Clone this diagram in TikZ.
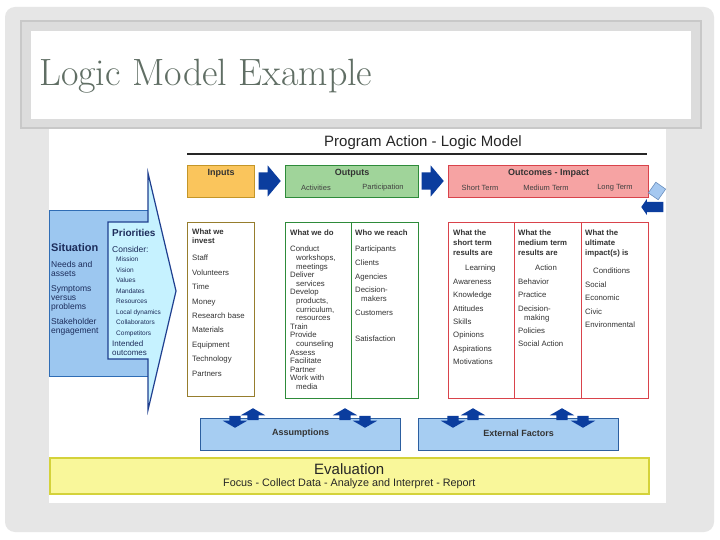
\documentclass[tikz,border=0pt]{standalone}
\usepackage{fontspec}
\setsansfont{Liberation Sans}
\usetikzlibrary{shapes.arrows, positioning}
\definecolor{slidegray}{RGB}{230,230,230}
\definecolor{framegray}{RGB}{220,220,220}
\definecolor{framedark}{RGB}{200,200,200}
\definecolor{titlegreen}{RGB}{96,110,100}
\definecolor{inputfill}{RGB}{250,197,92}
\definecolor{inputdraw}{RGB}{196,150,40}
\definecolor{investdraw}{RGB}{150,125,45}
\definecolor{outfill}{RGB}{160,212,154}
\definecolor{outdraw}{RGB}{46,139,58}
\definecolor{outcfill}{RGB}{246,163,163}
\definecolor{outcdraw}{RGB}{217,67,75}
\definecolor{arrowblue}{RGB}{11,61,158}
\definecolor{sitfill}{RGB}{156,199,240}
\definecolor{sitdraw}{RGB}{47,109,181}
\definecolor{prifill}{RGB}{198,242,255}
\definecolor{pridraw}{RGB}{31,63,143}
\definecolor{navy}{RGB}{28,44,90}
\definecolor{assumfill}{RGB}{166,205,242}
\definecolor{assumdraw}{RGB}{44,95,160}
\definecolor{evalfill}{RGB}{249,247,154}
\definecolor{evaldraw}{RGB}{212,210,58}
\definecolor{tileblue}{RGB}{165,200,240}

\begin{document}
\begin{tikzpicture}[x=1pt, y=-1pt,
  panel/.style={draw, line width=1.2pt, anchor=north west, inner sep=0pt},
  coltext/.style={anchor=north west, align=left, inner sep=0pt, text=black!80, font=\sffamily\fontsize{7.8}{9}\selectfont},
  headtext/.style={inner sep=0pt, text=black!80, font=\sffamily\bfseries\fontsize{9}{10}\selectfont},
  subtext/.style={inner sep=0pt, text=black!75, font=\sffamily\fontsize{7.5}{9}\selectfont},
  flowarrow/.style={single arrow, fill=arrowblue, inner xsep=0pt, inner ysep=8.5pt, minimum height=22pt, single arrow head extend=7pt, single arrow tip angle=100, anchor=tip},
  swaparrow/.style={single arrow, fill=arrowblue, inner xsep=0pt, inner ysep=5.5pt, minimum height=12pt, single arrow head extend=6.5pt, single arrow tip angle=120, anchor=tip},
  factbox/.style={panel, fill=assumfill, draw=assumdraw, minimum width=200pt, minimum height=32pt}
]
  \useasboundingbox (0,0) rectangle (720,540);
  \fill[white] (0,0) rectangle (720,540);
  \fill[slidegray, rounded corners=10pt] (5,7) rectangle (714,532);
  \fill[white] (49,127) rectangle (666,503);
  % title bar
  \node[panel, fill=framegray, draw=framedark, line width=2pt, minimum width=680pt, minimum height=107pt] (titlebar) at (20,20) {};
  \node[panel, fill=white, draw=none, minimum width=660pt, minimum height=88pt] (titlepane) at (30,30) {};
  \node[anchor=base west, inner sep=0pt, text=titlegreen, font=\fontsize{38}{42}\selectfont] (title) at (39,86) {Logic Model Example};

  % header row
  \node[inner sep=0pt, text=black!85, font=\sffamily\fontsize{15}{17}\selectfont] (program) at (423,143) {Program Action - Logic Model};
  \draw[line width=1.8pt, black!85] (187,154) -- (647,154);
  \node[panel, fill=inputfill, draw=inputdraw, minimum width=67pt, minimum height=32pt] (inputs) at (187,165) {};
  \node[panel, fill=outfill, draw=outdraw, minimum width=133pt, minimum height=32pt] (outputs) at (285,165) {};
  \node[panel, fill=outcfill, draw=outcdraw, minimum width=200pt, minimum height=32pt] (outcomes) at (448,165) {};
  \node[flowarrow] (arr1) at (281,181) {};
  \node[flowarrow] (arr2) at (444,181) {};
  \node[headtext, below=4pt of inputs.north] {Inputs};
  \node[headtext, below=4pt of outputs.north] {Outputs};
  \node[headtext, below=4pt of outcomes.north] {Outcomes - Impact};
  \node[subtext] at (316,188) {Activities};
  \node[subtext] at (383,188) {Participation};
  \node[subtext] at (480,188) {Short Term};
  \node[subtext] at (546,188) {Medium Term};
  \node[subtext] at (615,188) {Long Term};
  % small turning arrow
  \node[rectangle, fill=tileblue, draw=assumdraw!70, line width=0.6pt, minimum width=12pt, minimum height=13pt, inner sep=0pt, rotate=-35] (tile) at (657,191) {};
  \node[single arrow, shape border rotate=180, fill=arrowblue, inner xsep=0pt, inner ysep=5pt, minimum height=22pt, single arrow head extend=3pt, single arrow tip angle=110, anchor=tip] (turn) at (641,207) {};

  % situation and priorities
  \node[panel, fill=sitfill, draw=sitdraw, line width=1pt, minimum width=100pt, minimum height=166pt] (situation) at (49,210) {};
  \draw[pridraw, fill=prifill, line width=1.2pt] (108,222) -- (148,222) -- (148,173) -- (176,291) -- (148,410) -- (148,359) -- (108,359) -- cycle;
  \node[coltext, text=navy, font=\sffamily\bfseries\fontsize{11}{12}\selectfont] (sitlbl) at (51,243) {Situation};
  \node[coltext, text=navy, font=\sffamily\fontsize{8.5}{9}\selectfont] (sititems) at (51,261) {Needs and\\assets\\[6pt]Symptoms\\versus\\problems\\[6pt]Stakeholder\\engagement};
  \node[coltext, text=navy, font=\sffamily\bfseries\fontsize{10}{12}\selectfont] (prilbl) at (112,229) {Priorities};
  \node[coltext, text=navy, font=\sffamily\fontsize{8.5}{9}\selectfont] (consider) at (112,246) {Consider:};
  \node[coltext, text=navy, font=\sffamily\fontsize{6.5}{10.5}\selectfont] (priitems) at (116,257) {Mission\\Vision\\Values\\Mandates\\Resources\\Local dynamics\\Collaborators\\Competitors};
  \node[coltext, text=navy, font=\sffamily\fontsize{8}{8.5}\selectfont] (intended) at (112,341) {Intended\\outcomes};

  % inputs column
  \node[panel, draw=investdraw, minimum width=67pt, minimum height=174pt] (invest) at (187,222) {};
  \node[coltext] at ([xshift=5pt, yshift=-7pt]invest.north west) {\textbf{What we}\\\textbf{invest}\\[8pt]Staff\\[5.4pt]Volunteers\\[5.4pt]Time\\[5.4pt]Money\\[5.4pt]Research base\\[5.4pt]Materials\\[5.4pt]Equipment\\[5.4pt]Technology\\[5.4pt]Partners};

  % outputs columns
  \node[panel, draw=outdraw, minimum width=66pt, minimum height=176pt] (whatdo) at (285,222) {};
  \node[panel, draw=outdraw, minimum width=67pt, minimum height=176pt] (whoreach) at (351,222) {};
  \node[coltext, font=\sffamily\fontsize{7.8}{8.6}\selectfont] at ([xshift=5pt, yshift=-8pt]whatdo.north west) {\textbf{What we do}\\[7.4pt]Conduct\\\hspace*{6pt}workshops,\\\hspace*{6pt}meetings\\Deliver\\\hspace*{6pt}services\\Develop\\\hspace*{6pt}products,\\\hspace*{6pt}curriculum,\\\hspace*{6pt}resources\\Train\\Provide\\\hspace*{6pt}counseling\\Assess\\Facilitate\\Partner\\Work with\\\hspace*{6pt}media};
  \node[coltext] at ([xshift=4pt, yshift=-8pt]whoreach.north west) {\textbf{Who we reach}\\[7pt]Participants\\[5pt]Clients\\[5pt]Agencies\\[4pt]Decision-\\\hspace*{6pt}makers\\[5pt]Customers\\[17pt]Satisfaction};

  % outcomes columns
  \node[panel, draw=outcdraw, minimum width=66pt, minimum height=176pt] (shortterm) at (448,222) {};
  \node[panel, draw=outcdraw, minimum width=67pt, minimum height=176pt] (midterm) at (514,222) {};
  \node[panel, draw=outcdraw, minimum width=67pt, minimum height=176pt] (longterm) at (581,222) {};
  \node[coltext, font=\sffamily\fontsize{7.8}{10}\selectfont] at ([xshift=5pt, yshift=-8pt]shortterm.north west) {\textbf{What the}\\\textbf{short term}\\\textbf{results are}\\[5pt]\hspace*{12pt}Learning\\[3.4pt]Awareness\\[3.4pt]Knowledge\\[3.4pt]Attitudes\\[3.4pt]Skills\\[3.4pt]Opinions\\[3.4pt]Aspirations\\[3.4pt]Motivations};
  \node[coltext, font=\sffamily\fontsize{7.8}{10}\selectfont] at ([xshift=4pt, yshift=-8pt]midterm.north west) {\textbf{What the}\\\textbf{medium term}\\\textbf{results are}\\[5pt]\hspace*{17pt}Action\\[3.4pt]Behavior\\[3.4pt]Practice\\[3.4pt]Decision-\\[-1pt]\hspace*{6pt}making\\[3.4pt]Policies\\[3.4pt]Social Action};
  \node[coltext, font=\sffamily\fontsize{7.8}{10}\selectfont] at ([xshift=4pt, yshift=-8pt]longterm.north west) {\textbf{What the}\\\textbf{ultimate}\\\textbf{impact(s) is}\\[8pt]\hspace*{8pt}Conditions\\[3.5pt]Social\\[3.5pt]Economic\\[3.5pt]Civic\\[3.5pt]Environmental};

  % assumptions and external factors
  \node[factbox] (assume) at (200,418) {};
  \node[factbox] (external) at (418,418) {};
  \node[headtext] at ([yshift=1pt]assume.center) {Assumptions};
  \node[headtext] at ([yshift=1pt]external.center) {External Factors};
  \foreach \ux/\dx in {253/235, 345/365, 473/453, 562/583} {
    \node[swaparrow, rotate=90] at (\ux,408) {};
    \node[swaparrow, rotate=-90] at (\dx,428) {};
  }

  % evaluation
  \node[panel, fill=evalfill, draw=evaldraw, line width=1.5pt, minimum width=599pt, minimum height=36pt] (evaluation) at (49,457) {};
  \node[inner sep=0pt, text=black!85, font=\sffamily\fontsize{15}{17}\selectfont] at ([yshift=-12pt]evaluation.north) {Evaluation};
  \node[inner sep=0pt, text=black!85, font=\sffamily\fontsize{10.8}{12}\selectfont] at ([yshift=-27pt]evaluation.north) {Focus - Collect Data - Analyze and Interpret - Report};
\end{tikzpicture}
\end{document}
